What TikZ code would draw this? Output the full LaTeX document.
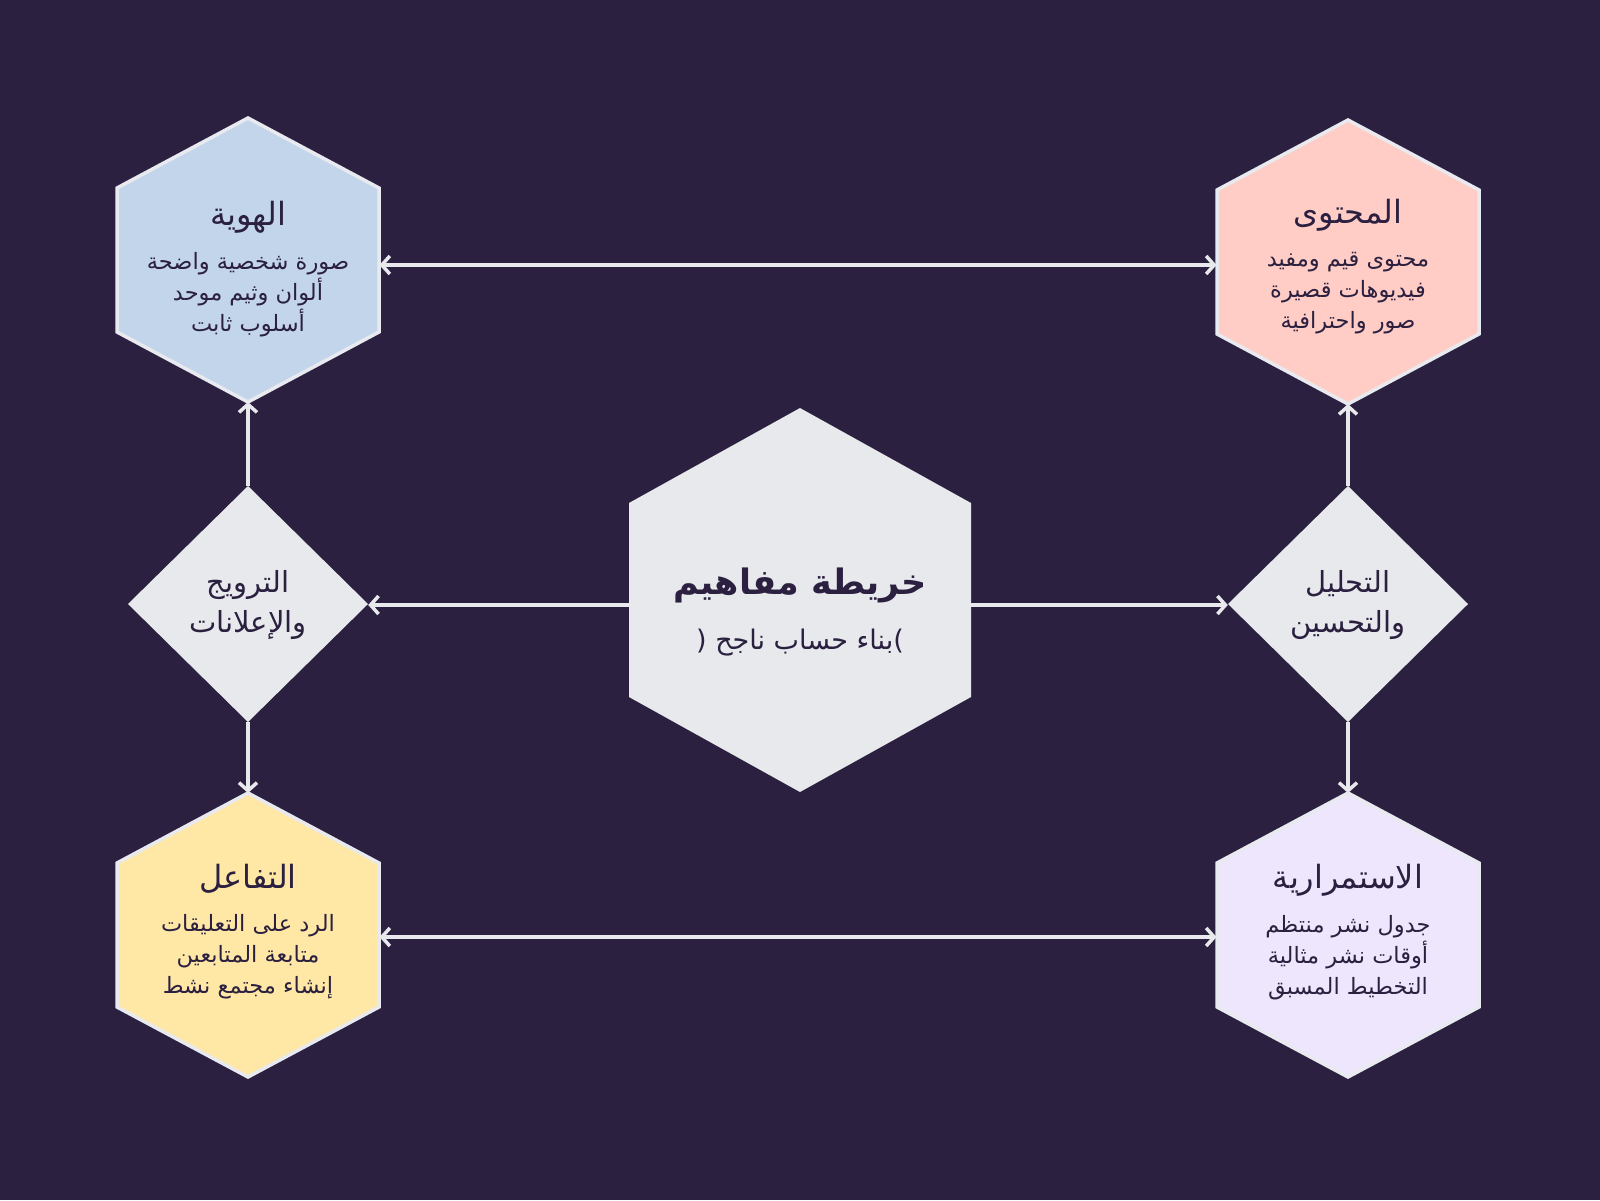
\documentclass[tikz,border=0pt]{standalone}
\usepackage{fontspec}
\usetikzlibrary{arrows.meta}
\newfontfamily\arabicfont[Script=Arabic]{DejaVu Sans}
\TeXXeTstate=1
\newcommand\ar[1]{\beginR#1\endR}
\definecolor{bgc}{HTML}{2B2040}
\definecolor{txt}{HTML}{2B2040}
\definecolor{lite}{HTML}{E8E9EC}
\definecolor{edge}{HTML}{E9EAEF}
\definecolor{cblue}{HTML}{C2D5EA}
\definecolor{cpink}{HTML}{FFCDC5}
\definecolor{cyell}{HTML}{FFE8A6}
\definecolor{clav}{HTML}{EEE6FD}
% style, cx, cy, half width, half height, half side
\newcommand\hexshape[6]{%
  \path[#1] (#2,#3-#5) -- (#2+#4,#3-#6) -- (#2+#4,#3+#6) -- (#2,#3+#5)
    -- (#2-#4,#3+#6) -- (#2-#4,#3-#6) -- cycle;}
\newcommand\diashape[5]{%
  \path[#1] (#2,#3-#5) -- (#2+#4,#3) -- (#2,#3+#5) -- (#2-#4,#3) -- cycle;}
\begin{document}
\begin{tikzpicture}[x=1pt,y=-1pt,
  outerhex/.style={draw=edge, line width=3.5pt, line join=miter},
  anchorbox/.style={inner sep=0pt, outer sep=0pt, minimum width=263pt, minimum height=284pt},
  hextitle/.style={text=txt, font=\arabicfont\fontsize{32}{36}\selectfont, inner sep=0pt},
  hexbody/.style={text=txt, font=\arabicfont\fontsize{22.5}{31}\selectfont, align=center, inner sep=0pt},
  diatext/.style={text=txt, font=\arabicfont\fontsize{29}{40}\selectfont, align=center, inner sep=0pt},
  conn/.style={draw=lite, line width=3.5pt, -{Straight Barb[length=8pt,width=18pt]}},
  conn2/.style={draw=lite, line width=3.5pt, {Straight Barb[length=8pt,width=18pt]}-{Straight Barb[length=8pt,width=18pt]}}
]
\fill[bgc] (0,0) rectangle (1600,1200);
\useasboundingbox (0,0) rectangle (1600,1200);

% shapes
\hexshape{outerhex, fill=cblue}{248}{260}{131}{142}{72}
\hexshape{outerhex, fill=cpink}{1348}{262}{131}{142}{72}
\hexshape{outerhex, fill=cyell}{248}{935}{131}{142}{72}
\hexshape{outerhex, fill=clav}{1348}{935}{131}{142}{72}
\hexshape{fill=lite}{800}{600}{171}{192}{97}
\diashape{fill=lite}{248}{604}{120}{118}
\diashape{fill=lite}{1348}{604}{120}{118}

% anchor nodes
\node[anchorbox] (idn) at (248,260) {};
\node[anchorbox] (cnt) at (1348,262) {};
\node[anchorbox] (eng) at (248,935) {};
\node[anchorbox] (con) at (1348,935) {};
\node[inner sep=0pt, minimum width=342pt, minimum height=384pt] (ctr) at (800,600) {};
\node[inner sep=0pt, minimum width=240pt, minimum height=236pt] (pro) at (248,604) {};
\node[inner sep=0pt, minimum width=240pt, minimum height=236pt] (ana) at (1348,604) {};

% texts
\node[hextitle] (idnT) at (248,217) {\ar{الهوية}};
\node[hexbody] (idnB) at (248,295) {\ar{صورة شخصية واضحة}\\\ar{ألوان وثيم موحد}\\\ar{أسلوب ثابت}};
\node[hextitle] (cntT) at (1348,215) {\ar{المحتوى}};
\node[hexbody] (cntB) at (1348,293) {\ar{محتوى قيم ومفيد}\\\ar{فيديوهات قصيرة}\\\ar{صور واحترافية}};
\node[hextitle] (engT) at (248,879) {\ar{التفاعل}};
\node[hexbody] (engB) at (248,957) {\ar{الرد على التعليقات}\\\ar{متابعة المتابعين}\\\ar{إنشاء مجتمع نشط}};
\node[hextitle] (conT) at (1348,880) {\ar{الاستمرارية}};
\node[hexbody] (conB) at (1348,958) {\ar{جدول نشر منتظم}\\\ar{أوقات نشر مثالية}\\\ar{التخطيط المسبق}};
\node[text=txt, font=\arabicfont\bfseries\fontsize{35}{40}\selectfont, inner sep=0pt] (ctrT) at (800,585) {\ar{خريطة مفاهيم}};
\node[text=txt, font=\arabicfont\fontsize{27}{31}\selectfont, inner sep=0pt] (ctrS) at (800,643) {\beginL(\ \beginR بناء حساب ناجح\endR)\endL};
\node[diatext] (proT) at (248,605) {\ar{الترويج}\\\ar{والإعلانات}};
\node[diatext] (anaT) at (1348,605) {\ar{التحليل}\\\ar{والتحسين}};

% connectors
\draw[conn2] ([yshift=-5pt]idn.east) -- ([yshift=-3pt]cnt.west);
\draw[conn2] ([yshift=-2pt]eng.east) -- ([yshift=-2pt]con.west);
\draw[conn] ([yshift=-5pt]ctr.west) -- ([yshift=-1pt]pro.east);
\draw[conn] ([yshift=-5pt]ctr.east) -- ([yshift=-1pt]ana.west);
\draw[conn] (pro.north) -- (idn.south);
\draw[conn] (pro.south) -- (eng.north);
\draw[conn] (ana.north) -- (cnt.south);
\draw[conn] (ana.south) -- (con.north);
\end{tikzpicture}
\end{document}
